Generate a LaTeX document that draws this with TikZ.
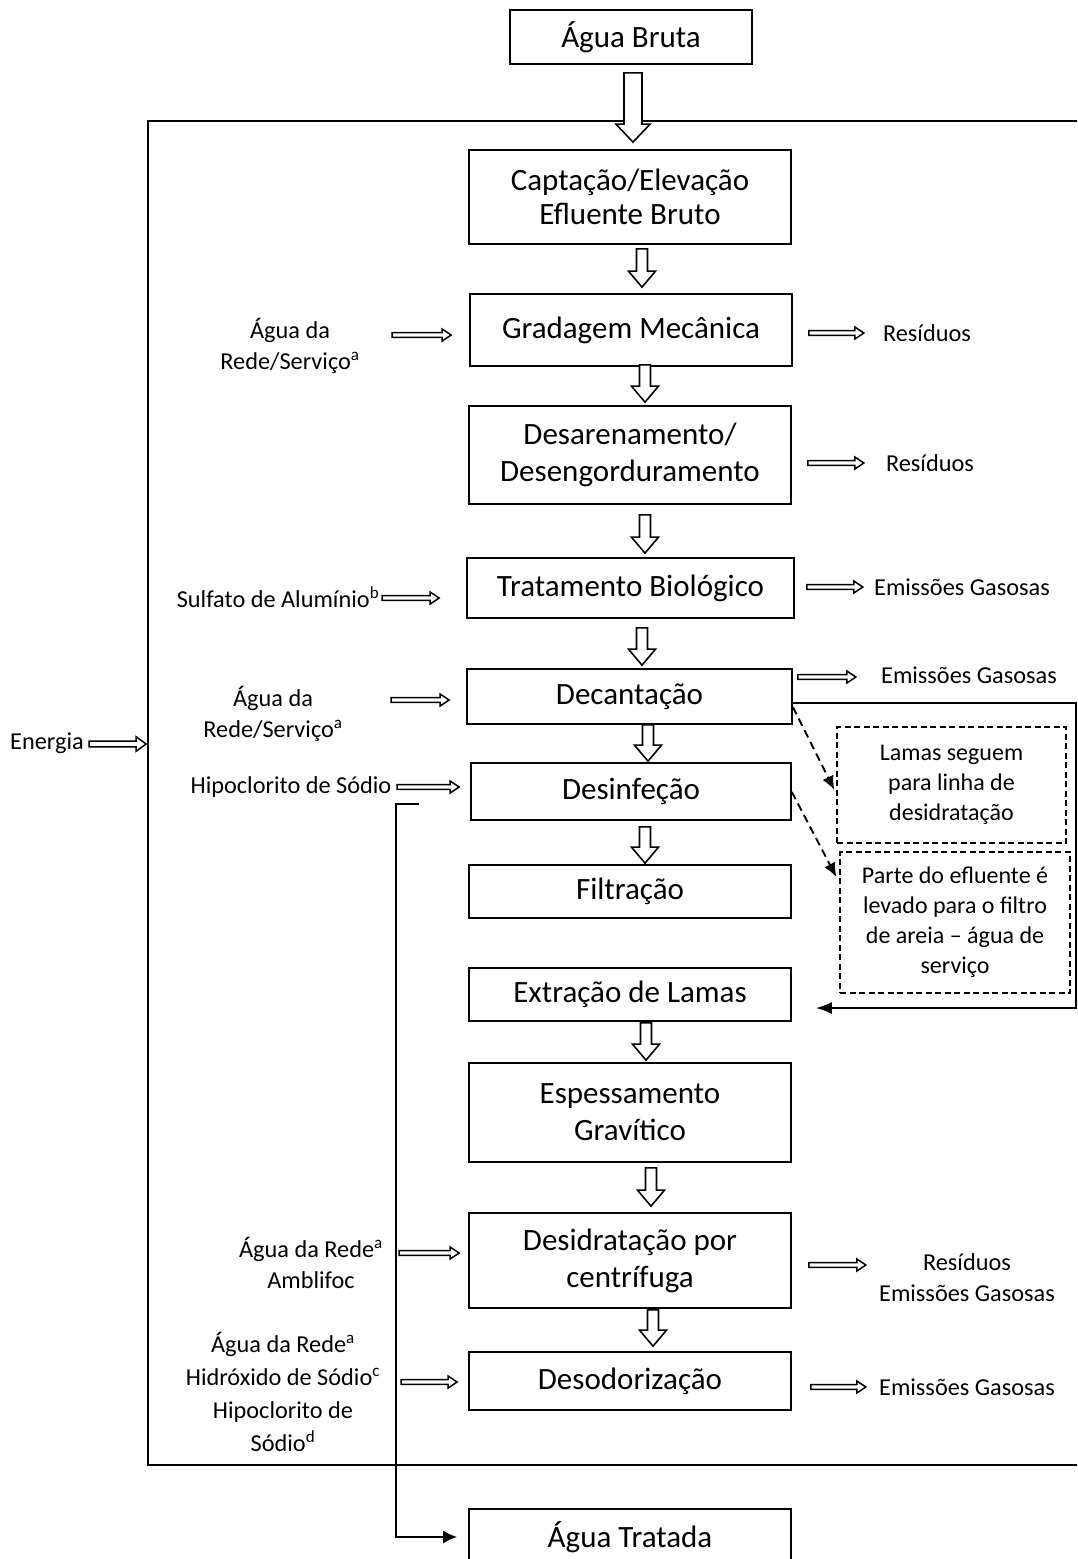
\documentclass[tikz,border=0pt]{standalone}
\usepackage{fontspec}
\setmainfont{Carlito}
\usetikzlibrary{arrows.meta,calc}

\begin{document}
\begin{tikzpicture}[x=1pt,y=-1pt,
  box/.style={draw, line width=1.7pt, minimum width=322pt, inner sep=0pt,
    align=center, font=\fontsize{31}{37}\selectfont},
  lbl/.style={inner sep=0pt, align=center, font=\fontsize{24.3}{31}\selectfont},
  note/.style={draw, dash pattern=on 6pt off 3.5pt, line width=1.3pt, inner sep=0pt,
    align=center, font=\fontsize{24}{30}\selectfont},
  % hollow arrow pointing down: shaft half width / head half width / head length
  hollowdown/.style args={#1/#2/#3}{draw, fill=white, line width=1.6pt, line join=miter,
    to path={let \p1=(\tikztostart), \p2=(\tikztotarget) in
      (\x1-#1pt,\y1) -- (\x1-#1pt,\y2+#3pt) -- (\x1-#2pt,\y2+#3pt) -- (\x1,\y2)
      -- (\x1+#2pt,\y2+#3pt) -- (\x1+#1pt,\y2+#3pt) -- (\x1+#1pt,\y1) -- cycle}},
  % hollow arrow pointing right
  hollowright/.style args={#1/#2/#3}{draw, fill=white, line width=1.5pt, line join=miter,
    to path={let \p1=(\tikztostart), \p2=(\tikztotarget) in
      (\x1,\y1+#1pt) -- (\x2-#3pt,\y1+#1pt) -- (\x2-#3pt,\y1+#2pt) -- (\x2,\y1)
      -- (\x2-#3pt,\y1-#2pt) -- (\x2-#3pt,\y1-#1pt) -- (\x1,\y1-#1pt) -- cycle}},
  bigdown/.style={hollowdown=5.5/13.5/16},
  sideright/.style={hollowright=2.3/6/9},
  solidflow/.style={line width=1.8pt},
  dashflow/.style={dash pattern=on 8pt off 5pt, line width=1.9pt,
    -{Latex[length=14pt,width=12pt]}},
]
\clip (0,0) rectangle (1077,1559);

% plant boundary
\node[draw, line width=1.7pt, minimum width=942pt, minimum height=1344pt, inner sep=0pt]
  (plant) at (619,793) {};

% process line
\node[box, minimum width=242pt, minimum height=54pt] (bruta) at (631,37) {Água Bruta};
\node[box, minimum height=94pt, font=\fontsize{31}{34}\selectfont] (capt) at (630,197)
  {Captação/Elevação\\Efluente Bruto};
\node[box, minimum height=72pt] (grad) at (631,330) {Gradagem Mecânica};
\node[box, minimum height=98pt] (desar) at (630,455) {Desarenamento/\\Desengorduramento};
\node[box, minimum width=327pt, minimum height=60pt] (trat) at (630.5,588) {Tratamento Biológico};
\node[box, minimum width=325pt, minimum height=55pt] (decant) at (629.5,696.5) {Decantação};
\node[box, minimum width=320pt, minimum height=57pt] (desinf) at (631,791.5) {Desinfeção};
\node[box, minimum height=53pt] (filtr) at (630,891.5) {Filtração};
\node[box, minimum height=53pt] (extr) at (630,994.5) {Extração de Lamas};
\node[box, minimum height=99pt] (espess) at (630,1112.5) {Espessamento\\Gravítico};
\node[box, minimum height=95pt] (desid) at (630,1260.5) {Desidratação por\\centrífuga};
\node[box, minimum height=58pt] (desodor) at (630,1381) {Desodorização};
\node[box, minimum height=56pt] (tratada) at (630,1537) {Água Tratada};

% notes on the right
\node[note, minimum width=229pt, minimum height=116pt] (lamas) at (951.5,785)
  {Lamas seguem\\para linha de\\desidratação};
\node[note, minimum width=230pt, minimum height=141pt] (areia) at (955,922.5)
  {Parte do efluente é\\levado para o filtro\\de areia – água de\\serviço};

% inputs
\node[lbl] (energia) at (47,743) {Energia};
\node[lbl] (in1) at (290,346) {Água da\\Rede/Serviço\textsuperscript{a}};
\node[lbl] (in2) at (278,597) {Sulfato de Alumínio\textsuperscript{b}};
\node[lbl] (in3) at (273,714) {Água da\\Rede/Serviço\textsuperscript{a}};
\node[lbl] (in4) at (291,787) {Hipoclorito de Sódio};
\node[lbl] (in5) at (311,1263) {Água da Rede\textsuperscript{a}\\Amblifoc};
\node[lbl, font=\fontsize{24.3}{33}\selectfont] (in6) at (283,1392)
  {Água da Rede\textsuperscript{a}\\Hidróxido de Sódio\textsuperscript{c}\\Hipoclorito de\\Sódio\textsuperscript{d}};

% outputs
\node[lbl] (out1) at (927,333) {Resíduos};
\node[lbl] (out2) at (930,463) {Resíduos};
\node[lbl] (out3) at (962,587) {Emissões Gasosas};
\node[lbl] (out4) at (969,675) {Emissões Gasosas};
\node[lbl] (out5) at (967,1278) {Resíduos\\Emissões Gasosas};
\node[lbl] (out6) at (967,1387) {Emissões Gasosas};

% main flow arrows
\draw[hollowdown=9/17/18] ([xshift=2pt,yshift=-8pt]bruta.south) to ([yshift=7pt]capt.north);
\draw[bigdown] ([xshift=12pt,yshift=-4pt]capt.south) to ([yshift=6pt]grad.north);
\draw[bigdown] ([xshift=14pt,yshift=2pt]grad.south) to ([yshift=3pt]desar.north);
\draw[bigdown] ([xshift=15pt,yshift=-10pt]desar.south) to ([yshift=4pt]trat.north);
\draw[bigdown] ([xshift=11.5pt,yshift=-9pt]trat.south) to ([yshift=3pt]decant.north);
\draw[bigdown] ([xshift=18.5pt]decant.south) to ([yshift=1pt]desinf.north);
\draw[bigdown] ([xshift=14pt,yshift=-6pt]desinf.south) to ([yshift=1pt]filtr.north);
\draw[bigdown] ([xshift=16pt,yshift=-1pt]extr.south) to ([yshift=2pt]espess.north);
\draw[bigdown] ([xshift=21pt,yshift=-5pt]espess.south) to ([yshift=6pt]desid.north);
\draw[bigdown] ([xshift=23pt,yshift=-1pt]desid.south) to ([yshift=5pt]desodor.north);

% input arrows
\draw[hollowright=2.8/7.2/10] ([xshift=-58pt,yshift=49pt]plant.west) to ([xshift=-1pt,yshift=49pt]plant.west);
\draw[sideright] ([xshift=-77pt,yshift=-5pt]grad.west) to ([xshift=-18pt,yshift=-5pt]grad.west);
\draw[sideright] ([xshift=-84pt,yshift=-10pt]trat.west) to ([xshift=-27pt,yshift=-10pt]trat.west);
\draw[sideright] ([xshift=-75pt,yshift=-3.5pt]decant.west) to ([xshift=-17pt,yshift=-3.5pt]decant.west);
\draw[sideright] ([xshift=-73pt,yshift=4.5pt]desinf.west) to ([xshift=-11pt,yshift=4.5pt]desinf.west);
\draw[sideright] ([xshift=-69pt,yshift=7.5pt]desid.west) to ([xshift=-9pt,yshift=7.5pt]desid.west);
\draw[sideright] ([xshift=-67pt,yshift=-1pt]desodor.west) to ([xshift=-11pt,yshift=-1pt]desodor.west);

% output arrows
\draw[sideright] ([xshift=16pt,yshift=-3pt]grad.east) to ([xshift=71pt,yshift=-3pt]grad.east);
\draw[sideright] ([xshift=16pt,yshift=-8pt]desar.east) to ([xshift=72pt,yshift=-8pt]desar.east);
\draw[sideright] ([xshift=12pt,yshift=1pt]trat.east) to ([xshift=68pt,yshift=1pt]trat.east);
\draw[sideright] ([xshift=5pt,yshift=19.5pt]decant.east) to ([xshift=63pt,yshift=19.5pt]decant.east);
\draw[sideright] ([xshift=17pt,yshift=-4.5pt]desid.east) to ([xshift=74pt,yshift=-4.5pt]desid.east);
\draw[sideright] ([xshift=19pt,yshift=-6pt]desodor.east) to ([xshift=74pt,yshift=-6pt]desodor.east);

% sludge return and notes
\draw[solidflow, -{Latex[length=16pt,width=12pt]}]
  ([yshift=-6.5pt]decant.east) -- ++(283,0) |- ([xshift=24pt,yshift=-13.5pt]extr.east);
\draw[dashflow] ([yshift=-10.5pt]decant.east) to ([xshift=-2pt,yshift=-5pt]lamas.west);
\draw[dashflow] ([yshift=-0.5pt]desinf.east) to ([xshift=-3pt,yshift=45.5pt]areia.west);

% bypass to treated water
\coordinate (bypass) at ([xshift=-51pt,yshift=-12.5pt]desinf.west);
\draw[solidflow, -{Latex[length=14pt,width=13pt]}]
  (bypass) -- ++(-23,0) |- ([xshift=-11pt]tratada.west);
\end{tikzpicture}
\end{document}
